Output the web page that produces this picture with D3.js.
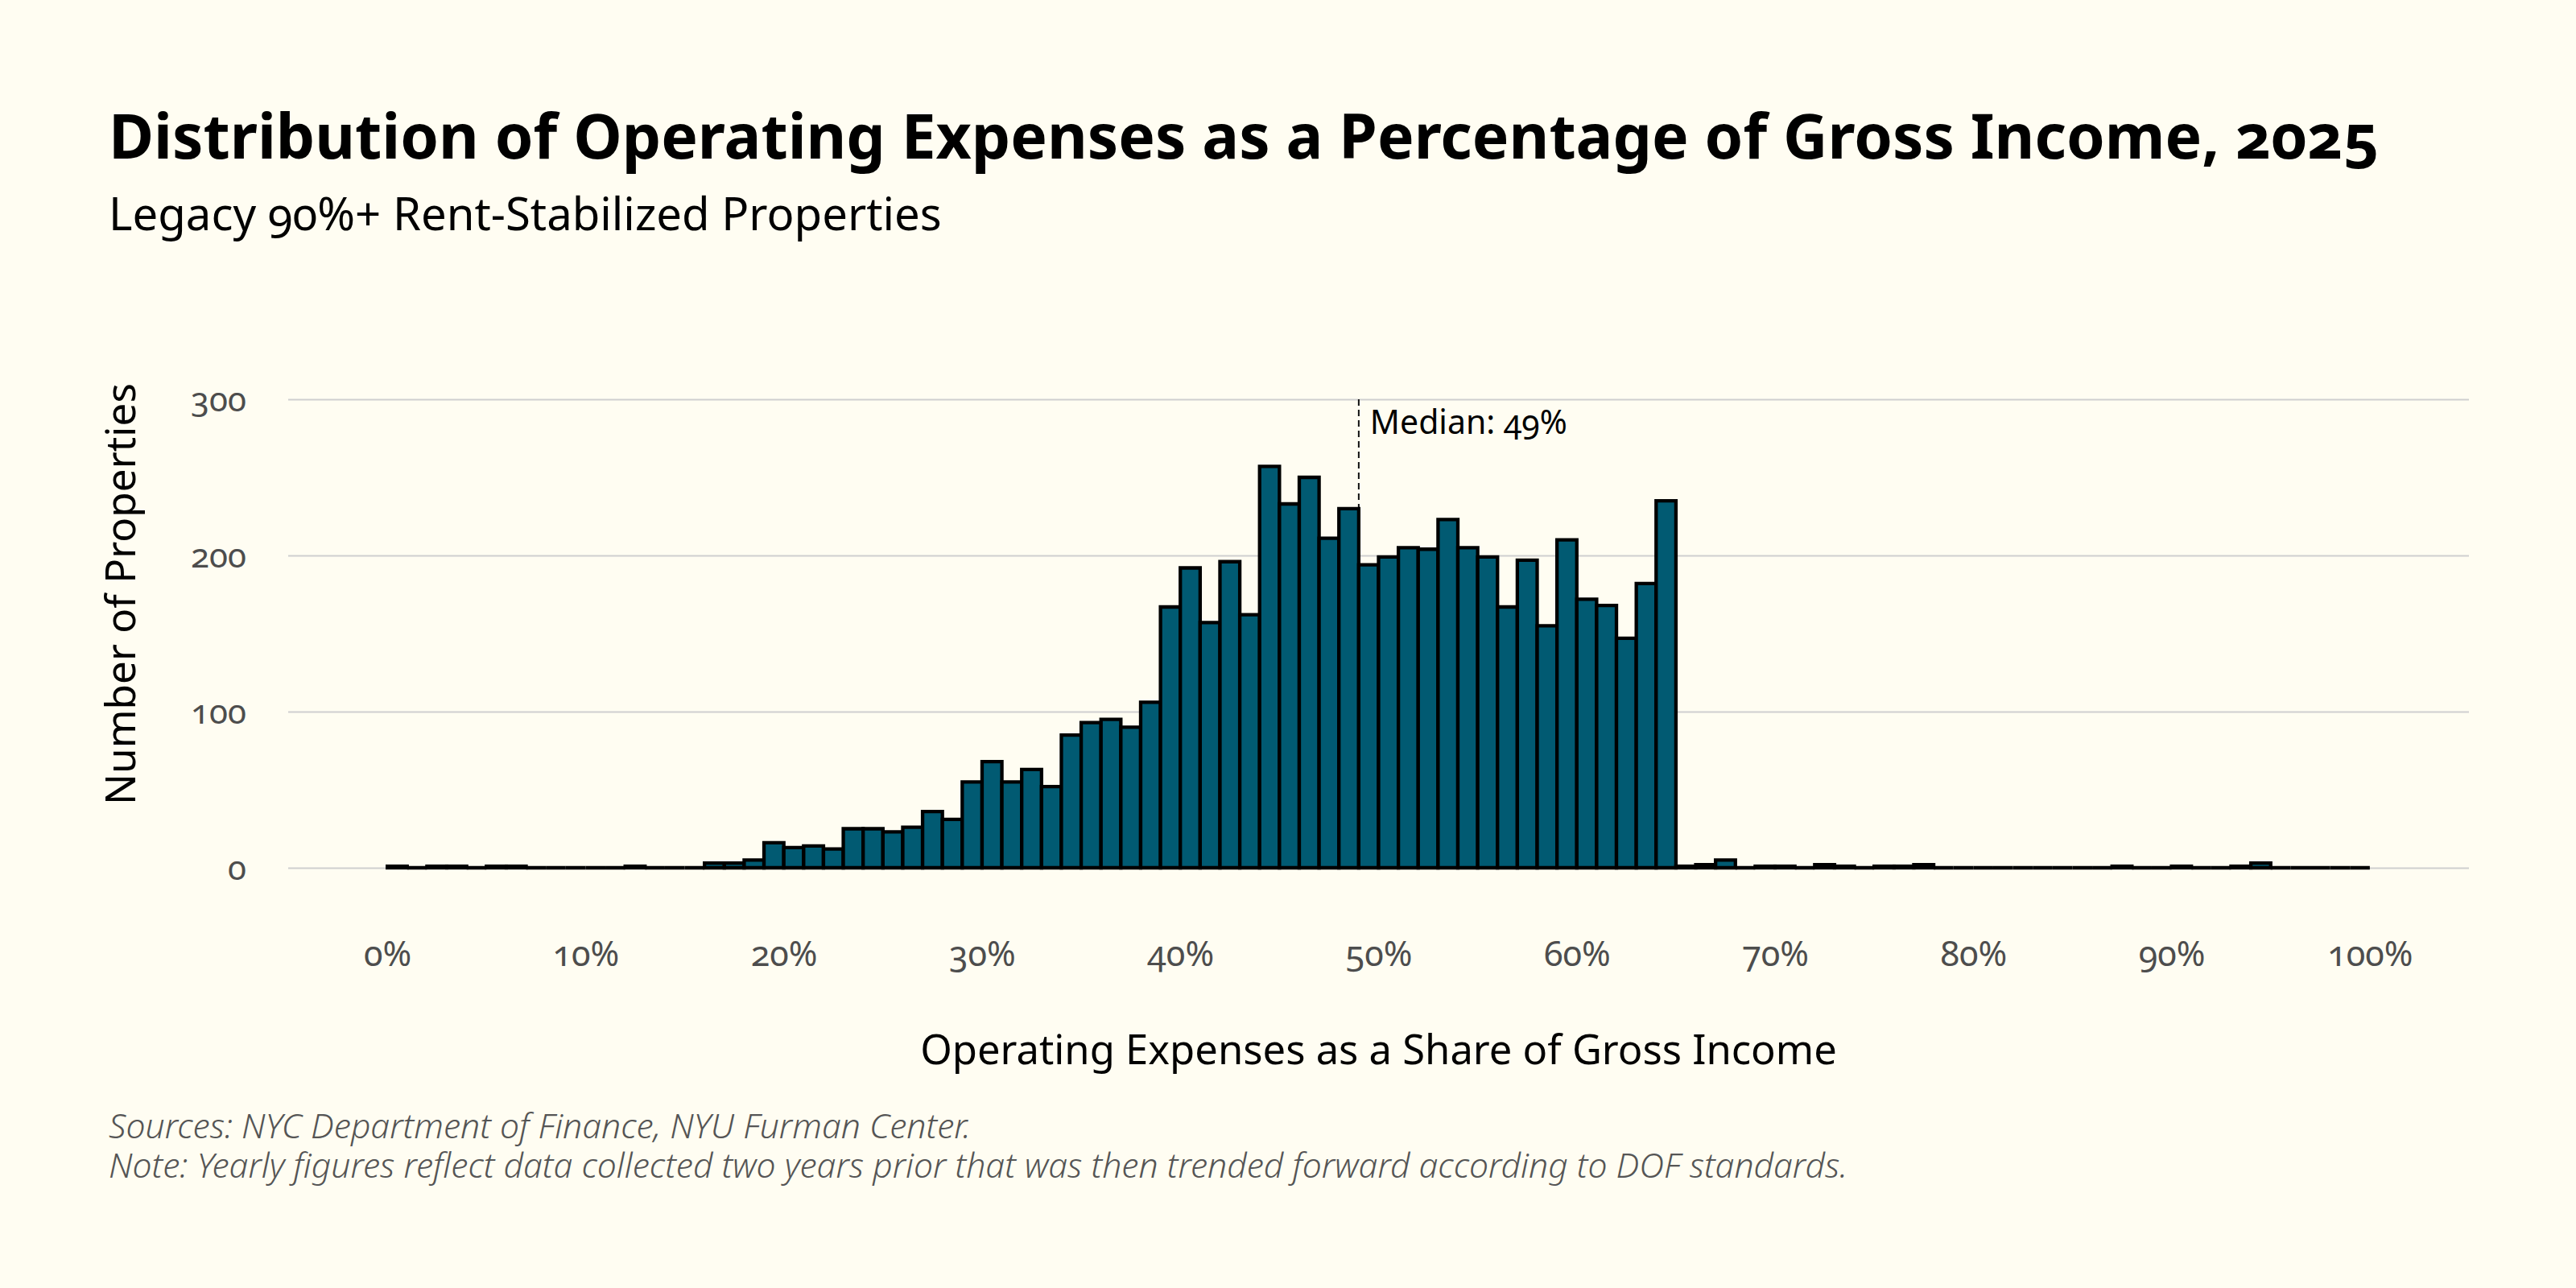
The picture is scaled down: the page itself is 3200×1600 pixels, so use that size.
<!DOCTYPE html>
<html>
<head>
<meta charset="utf-8">
<script src="https://cdn.jsdelivr.net/npm/d3@7"></script>
<style>
  html, body { margin: 0; padding: 0; background: #fffdf2; }
  text { font-variant-numeric: oldstyle-nums; }
</style>
</head>
<body>
<svg id="chart"></svg>
<script>
// counts per 1% bin, bins start at 0%, 1%, ... 99%
var counts = [
  1, 0, 1, 1, 0, 1, 1, 0, 0, 0,
  0, 0, 1, 0, 0, 0, 3, 3, 5, 16,
  13, 14, 12, 25, 25, 23, 26, 36, 31, 55,
  68, 55, 63, 52, 85, 93, 95, 90, 106, 167,
  192, 157, 196, 162, 257, 233, 250, 211, 230, 194,
  199, 205, 204, 223, 205, 199, 167, 197, 155, 210,
  172, 168, 147, 182, 235, 1, 2, 5, 0, 1,
  1, 0, 2, 1, 0, 1, 1, 2, 0, 0,
  0, 0, 0, 0, 0, 0, 0, 1, 0, 0,
  1, 0, 0, 1, 3, 0, 0, 0, 0, 0
];
var binWidth = 1;
var xTicks = [0, 10, 20, 30, 40, 50, 60, 70, 80, 90, 100];
var yTicks = [0, 100, 200, 300];
var medianValue = 49;

var titleText = "Distribution of Operating Expenses as a Percentage of Gross Income, 2025";
var subtitleText = "Legacy 90%+ Rent-Stabilized Properties";
var xTitle = "Operating Expenses as a Share of Gross Income";
var yTitle = "Number of Properties";
var notes = [
  "Sources: NYC Department of Finance, NYU Furman Center.",
  "Note: Yearly figures reflect data collected two years prior that was then trended forward according to DOF standards."
];

var width = 3200, height = 1600;
var font = "'Noto Sans', 'Open Sans', sans-serif";

var svg = d3.select("#chart").attr("width", width).attr("height", height);
svg.append("rect").attr("width", width).attr("height", height).attr("fill", "#fffdf2");

var x = d3.scaleLinear().domain([-5, 105]).range([358, 3067]);
var y = d3.scaleLinear().domain([0, 300]).range([1078, 496]);

// scale a text's font size so it spans the wanted width
function fit(sel, w) {
    var fs = parseFloat(sel.attr("font-size"));
    var cur = sel.node().getComputedTextLength();
    sel.attr("font-size", fs * w / cur);
    return fs * w / cur;
}

// gridlines
var grid = svg.append("g")
    .attr("transform", "translate(" + x.range()[0] + ",0)")
    .call(d3.axisLeft(y).tickValues(yTicks).tickSize(-(x.range()[1] - x.range()[0])).tickFormat(""));
grid.select(".domain").remove();
grid.selectAll("text").remove();
grid.selectAll("line").attr("stroke", "#cfcfcf").attr("stroke-width", 2);

// y tick labels
var yAxis = svg.append("g")
    .attr("transform", "translate(306,0)")
    .call(d3.axisLeft(y).tickValues(yTicks).tickSize(0).tickPadding(0));
yAxis.select(".domain").remove();
yAxis.selectAll("line").remove();
yAxis.attr("font-family", font).attr("font-size", 42);
yAxis.selectAll("text").attr("fill", "#4d4d4d").attr("dy", "0.35em");

// x tick labels
var xAxis = svg.append("g")
    .attr("transform", "translate(0,1200)")
    .call(d3.axisBottom(x).tickValues(xTicks).tickSize(0).tickFormat(function (d) { return d + "%"; }));
xAxis.select(".domain").remove();
xAxis.selectAll("line").remove();
xAxis.attr("font-family", font).attr("font-size", 43);
xAxis.selectAll("text").attr("fill", "#4d4d4d").attr("y", 0).attr("dy", 0);

// median line (under the bars)
svg.append("line")
    .attr("x1", x(medianValue)).attr("x2", x(medianValue))
    .attr("y1", y(300)).attr("y2", y(0))
    .attr("stroke", "#111").attr("stroke-width", 2)
    .attr("stroke-dasharray", "8,5");

// bars
var bins = counts.map(function (c, i) {
    return { x0: i * binWidth, x1: (i + 1) * binWidth, n: c };
});
svg.append("g").selectAll("path")
    .data(bins)
    .join("path")
    .attr("d", function (d) {
        return "M" + x(d.x0) + "," + y(0) + "V" + y(d.n) + "H" + x(d.x1) + "V" + y(0) + "Z";
    })
    .attr("fill", "#015a72")
    .attr("stroke", "#000")
    .attr("stroke-width", 4.3)
    .attr("stroke-linejoin", "miter");

// median label
var med = svg.append("text")
    .attr("x", x(medianValue) + 14).attr("y", 539)
    .attr("font-family", font).attr("font-size", 38).attr("fill", "#000")
    .text("Median: " + medianValue + "%");
fit(med, 245);

// titles
var t = svg.append("text").attr("x", 135).attr("y", 197)
    .attr("font-family", font).attr("font-weight", 700).attr("font-size", 70).attr("fill", "#000")
    .text(titleText);
fit(t, 2821);

var st = svg.append("text").attr("x", 135).attr("y", 286)
    .attr("font-family", font).attr("font-size", 50).attr("fill", "#000")
    .text(subtitleText);
fit(st, 1035);

var xt = svg.append("text").attr("x", (x.range()[0] + x.range()[1]) / 2).attr("y", 1322)
    .attr("text-anchor", "middle")
    .attr("font-family", font).attr("font-size", 50).attr("fill", "#000")
    .text(xTitle);
fit(xt, 1139);

var yt = svg.append("text")
    .attr("transform", "translate(168,738) rotate(-90)")
    .attr("text-anchor", "middle")
    .attr("font-family", font).attr("font-size", 50).attr("fill", "#000")
    .text(yTitle);
fit(yt, 524);

// footer notes
var n2 = svg.append("text").attr("x", 135).attr("y", 1463)
    .attr("font-family", font).attr("font-style", "italic").attr("font-weight", 300)
    .attr("font-size", 40).attr("fill", "#555")
    .text(notes[1]);
var fs = fit(n2, 2161);
svg.append("text").attr("x", 135).attr("y", 1414)
    .attr("font-family", font).attr("font-style", "italic").attr("font-weight", 300)
    .attr("font-size", fs).attr("fill", "#555")
    .text(notes[0]);
</script>
</body>
</html>
